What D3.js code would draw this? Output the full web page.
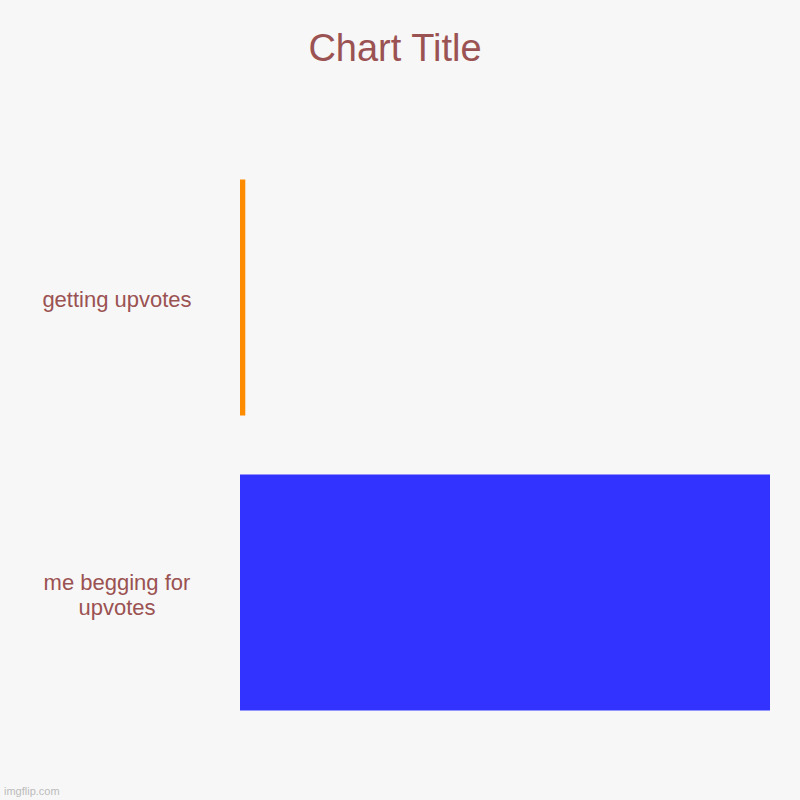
<!DOCTYPE html>
<meta charset="utf-8">
<style>
  body { margin: 0; background: #f7f7f7; }
  text { font-family: "Liberation Sans", Arial, sans-serif; fill: #9b5252; }
</style>
<body>
<script src="https://cdn.jsdelivr.net/npm/d3@7/dist/d3.min.js"></script>
<script>

    var categories = ["getting upvotes", "me begging for upvotes"];
    var values = [1, 100];
    var colors = ["#ff8c00", "#3333ff"];

    var w = 800, h = 800;

    var svg = d3.select("body")
            .append("svg")
            .attr("width", w)
            .attr("height", h);

    svg.append("rect")
            .attr("width", w)
            .attr("height", h)
            .attr("fill", "#f7f7f7");

    var y = d3.scaleBand()
            .domain(categories)
            .range([150, 740])
            .paddingInner(0.2)
            .paddingOuter(0.1);

    var x = d3.scaleLinear()
            .domain([0, d3.max(values)])
            .range([240, 770]);

    // bars
    svg.selectAll("rect.bar")
            .data(values)
            .enter()
            .append("rect")
            .attr("class", "bar")
            .attr("x", x(0))
            .attr("y", function(d, i) { return y(categories[i]); })
            .attr("width", function(d) { return x(d) - x(0); })
            .attr("height", y.bandwidth())
            .attr("fill", function(d, i) { return colors[i]; });

    // category labels, wrapped like the original
    var lines = [["getting upvotes"], ["me begging for", "upvotes"]];

    svg.selectAll("text.label")
            .data(categories)
            .enter()
            .append("text")
            .attr("class", "label")
            .attr("text-anchor", "middle")
            .attr("font-size", 22)
            .each(function(d, i) {
                var t = d3.select(this);
                var ls = lines[i];
                var cy = y(d) + y.bandwidth() / 2 + 2;
                ls.forEach(function(s, j) {
                    t.append("tspan")
                        .attr("x", 117)
                        .attr("y", cy + (j - (ls.length - 1) / 2) * 25)
                        .attr("dy", "0.35em")
                        .text(s);
                });
            });

    svg.append("text")
            .attr("x", 395)
            .attr("y", 61)
            .attr("text-anchor", "middle")
            .attr("font-size", 38)
            .text("Chart Title");

    svg.append("text")
            .attr("x", 4)
            .attr("y", 795)
            .attr("font-size", 11)
            .style("fill", "#bbbbbb")
            .text("imgflip.com");

</script>
